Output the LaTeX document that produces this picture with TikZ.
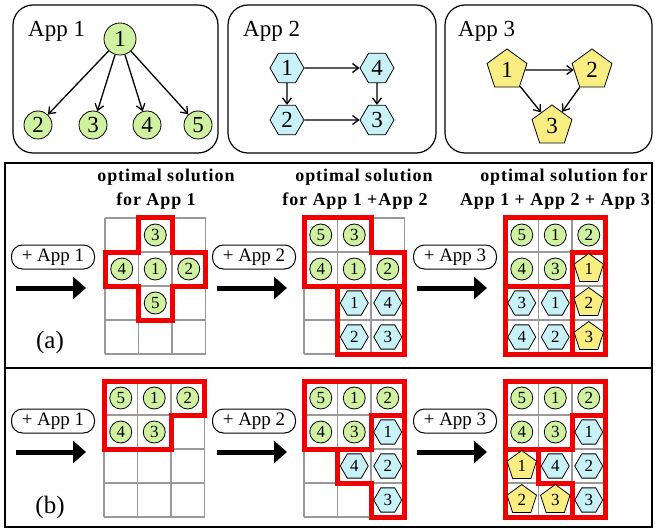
\documentclass[tikz,border=0pt]{standalone}
\usepackage{fontspec}
\setmainfont{Liberation Serif}
\newfontfamily\headfont[LetterSpace=5]{Liberation Serif}
\usetikzlibrary{shapes.geometric,arrows.meta}

\definecolor{appgreen}{RGB}{208,242,160}
\definecolor{appcyan}{RGB}{200,242,248}
\definecolor{appyellow}{RGB}{250,238,130}
\definecolor{slotred}{RGB}{240,0,0}

\tikzset{
    appbox/.style={black, line width=1.2pt, rounded corners=20pt},
    gridline/.style={black!40, line width=1.5pt},
    slotframe/.style={slotred, line width=5pt, line join=miter},
    % tasks inside the slot grids
    ctask/.style={circle, draw, thick, fill=appgreen, inner sep=0pt, minimum size=22pt, font=\fontsize{17}{17}\selectfont},
    htask/.style={regular polygon, regular polygon sides=6, draw, thick, fill=appcyan, inner sep=0pt, minimum size=28pt, font=\fontsize{17}{17}\selectfont},
    ptask/.style={regular polygon, regular polygon sides=5, draw, thick, fill=appyellow, inner sep=0pt, minimum size=31pt, font=\fontsize{17}{17}\selectfont},
    % tasks of the application graphs
    cbig/.style={ctask, minimum size=#1, font=\fontsize{23}{23}\selectfont},
    hbig/.style={htask, minimum size=34pt, font=\fontsize{23}{23}\selectfont},
    pbig/.style={ptask, minimum size=42pt, font=\fontsize{23}{23}\selectfont},
    dep/.style={black, line width=1.3pt, -{Straight Barb[length=6pt,width=9pt]}},
    pill/.style={draw, line width=1pt, rounded corners=11pt, minimum width=83pt, minimum height=24pt, inner sep=0pt, font=\fontsize{19}{19}\selectfont},
    steparrow/.style={black, line width=5pt, -{Triangle[length=13pt,width=22pt]}},
    headline/.style={font=\fontsize{18}{18}\headfont\bfseries, inner sep=0pt},
    applabel/.style={anchor=base west, inner sep=0pt, font=\fontsize{23}{23}\selectfont},
    tag/.style={inner sep=0pt, font=\fontsize{25}{25}\selectfont}
}

\newcommand{\slotgrid}{%
    \foreach \c in {0,...,3} {
        \draw[gridline] (\c,0) -- (\c,4);
    }
    \foreach \r in {0,...,4} {
        \draw[gridline] (0,\r) -- (3,\r);
    }
}

\begin{document}
\begin{tikzpicture}[x=1pt, y=-1pt]
    \useasboundingbox (0,0) rectangle (655,529);

    % App 1: one root and four children
    \draw[appbox] (13,5) rectangle (218,153);
    \node[applabel] (lab1) at (28,37) {App 1};
    \node[cbig=32pt] (x1n1) at (120,39) {1};
    \node[cbig=28pt] (x1n2) at (38,125) {2};
    \node[cbig=28pt] (x1n3) at (93,125) {3};
    \node[cbig=28pt] (x1n4) at (147,125) {4};
    \node[cbig=28pt] (x1n5) at (198,125) {5};
    \foreach \k in {2,...,5} {
        \draw[dep] (x1n1) -- (x1n\k);
    }

    % App 2: square of hexagons
    \draw[appbox] (228,5) rectangle (436,153);
    \node[applabel] (lab2) at (243,37) {App 2};
    \node[hbig] (x2n1) at (287,68) {1};
    \node[hbig] (x2n4) at (377,68) {4};
    \node[hbig] (x2n2) at (287,120) {2};
    \node[hbig] (x2n3) at (377,120) {3};
    \draw[dep] (x2n1) -- (x2n4);
    \draw[dep] (x2n1) -- (x2n2);
    \draw[dep] (x2n4) -- (x2n3);
    \draw[dep] (x2n2) -- (x2n3);

    % App 3: triangle of pentagons
    \draw[appbox] (445,5) rectangle (652,153);
    \node[applabel] (lab3) at (458,37) {App 3};
    \node[pbig] (x3n1) at (507,70) {1};
    \node[pbig] (x3n2) at (592,70) {2};
    \node[pbig] (x3n3) at (552,126) {3};
    \draw[dep] (x3n1) -- (x3n2);
    \draw[dep] (x3n1) -- (x3n3);
    \draw[dep] (x3n2) -- (x3n3);

    % frame of the two placement rows
    \draw[black, line width=1.2pt] (5,163) rectangle (652,527);
    \draw[black, line width=1.2pt] (5,368) -- (652,368);

    % titles over row (a)
    \node[headline] (t1a) at (166,177) {optimal solution};
    \node[headline] (t1b) at (156,201) {for App 1};
    \node[headline] (t2a) at (364,177) {optimal solution};
    \node[headline] (t2b) at (355,201) {for App 1 +App 2};
    \node[headline] (t3a) at (564,177) {optimal solution for};
    \node[headline] (t3b) at (555,201) {App 1 + App 2 + App 3};

    % added applications and arrows
    \foreach \row/\py/\ay in {a/257/288, b/421/452} {
        \node[pill] (\row1add) at (53,\py) {+ App 1};
        \node[pill] (\row2add) at (254,\py) {+ App 2};
        \node[pill] (\row3add) at (455,\py) {+ App 3};
        \foreach \s/\xs in {1/16, 2/217, 3/417} {
            \coordinate (\row\s s) at (\xs,\ay);
            \coordinate (\row\s e) at (\xs+70,\ay);
            \draw[steparrow] (\row\s s) -- (\row\s e);
        }
    }
    \node[tag] (taga) at (50,342) {(a)};
    \node[tag] (tagb) at (50,507) {(b)};

    % (a) step 1
    \begin{scope}[shift={(105,218)}, x=33.5pt, y=-34pt]
        \slotgrid
        \draw[slotframe] (1,0) -- (2,0) -- (2,1) -- (3,1) -- (3,2) -- (2,2) -- (2,3) -- (1,3) -- (1,2) -- (0,2) -- (0,1) -- (1,1) -- cycle;
        \foreach \n/\c/\r in {3/1/0, 4/0/1, 1/1/1, 2/2/1, 5/1/2} {
            \node[ctask] (a1g\n) at (\c+0.5,\r+0.5) {\n};
        }
    \end{scope}

    % (a) step 2
    \begin{scope}[shift={(304,218)}, x=33.5pt, y=-34pt]
        \slotgrid
        \draw[slotframe] (0,0) -- (2,0) -- (2,1) -- (3,1) -- (3,2) -- (0,2) -- cycle;
        \draw[slotframe] (1,2) rectangle (3,4);
        \foreach \n/\c/\r in {5/0/0, 3/1/0, 4/0/1, 1/1/1, 2/2/1} {
            \node[ctask] (a2g\n) at (\c+0.5,\r+0.5) {\n};
        }
        \foreach \n/\c/\r in {1/1/2, 4/2/2, 2/1/3, 3/2/3} {
            \node[htask] (a2h\n) at (\c+0.5,\r+0.5) {\n};
        }
    \end{scope}

    % (a) step 3
    \begin{scope}[shift={(505,218)}, x=33.5pt, y=-34pt]
        \slotgrid
        \draw[slotframe] (0,0) -- (3,0) -- (3,1) -- (2,1) -- (2,2) -- (0,2) -- cycle;
        \draw[slotframe] (0,2) rectangle (2,4);
        \draw[slotframe] (2,1) rectangle (3,4);
        \foreach \n/\c/\r in {5/0/0, 1/1/0, 2/2/0, 4/0/1, 3/1/1} {
            \node[ctask] (a3g\n) at (\c+0.5,\r+0.5) {\n};
        }
        \foreach \n/\c/\r in {3/0/2, 1/1/2, 4/0/3, 2/1/3} {
            \node[htask] (a3h\n) at (\c+0.5,\r+0.5) {\n};
        }
        \foreach \n/\c/\r in {1/2/1, 2/2/2, 3/2/3} {
            \node[ptask] (a3p\n) at (\c+0.5,\r+0.5) {\n};
        }
    \end{scope}

    % (b) step 1
    \begin{scope}[shift={(104,381)}, x=33.5pt, y=-34pt]
        \slotgrid
        \draw[slotframe] (0,0) -- (3,0) -- (3,1) -- (2,1) -- (2,2) -- (0,2) -- cycle;
        \foreach \n/\c/\r in {5/0/0, 1/1/0, 2/2/0, 4/0/1, 3/1/1} {
            \node[ctask] (b1g\n) at (\c+0.5,\r+0.5) {\n};
        }
    \end{scope}

    % (b) step 2
    \begin{scope}[shift={(304,381)}, x=33.5pt, y=-34pt]
        \slotgrid
        \draw[slotframe] (0,0) -- (3,0) -- (3,1) -- (2,1) -- (2,2) -- (0,2) -- cycle;
        \draw[slotframe] (2,1) -- (3,1) -- (3,4) -- (2,4) -- (2,3) -- (1,3) -- (1,2) -- (2,2) -- cycle;
        \foreach \n/\c/\r in {5/0/0, 1/1/0, 2/2/0, 4/0/1, 3/1/1} {
            \node[ctask] (b2g\n) at (\c+0.5,\r+0.5) {\n};
        }
        \foreach \n/\c/\r in {1/2/1, 4/1/2, 2/2/2, 3/2/3} {
            \node[htask] (b2h\n) at (\c+0.5,\r+0.5) {\n};
        }
    \end{scope}

    % (b) step 3
    \begin{scope}[shift={(505,381)}, x=33.5pt, y=-34pt]
        \slotgrid
        \draw[slotframe] (0,0) -- (3,0) -- (3,1) -- (2,1) -- (2,2) -- (0,2) -- cycle;
        \draw[slotframe] (2,1) -- (3,1) -- (3,4) -- (2,4) -- (2,3) -- (1,3) -- (1,2) -- (2,2) -- cycle;
        \draw[slotframe] (0,2) -- (1,2) -- (1,3) -- (2,3) -- (2,4) -- (0,4) -- cycle;
        \foreach \n/\c/\r in {5/0/0, 1/1/0, 2/2/0, 4/0/1, 3/1/1} {
            \node[ctask] (b3g\n) at (\c+0.5,\r+0.5) {\n};
        }
        \foreach \n/\c/\r in {1/2/1, 4/1/2, 2/2/2, 3/2/3} {
            \node[htask] (b3h\n) at (\c+0.5,\r+0.5) {\n};
        }
        \foreach \n/\c/\r in {1/0/2, 2/0/3, 3/1/3} {
            \node[ptask] (b3p\n) at (\c+0.5,\r+0.5) {\n};
        }
    \end{scope}
\end{tikzpicture}
\end{document}
